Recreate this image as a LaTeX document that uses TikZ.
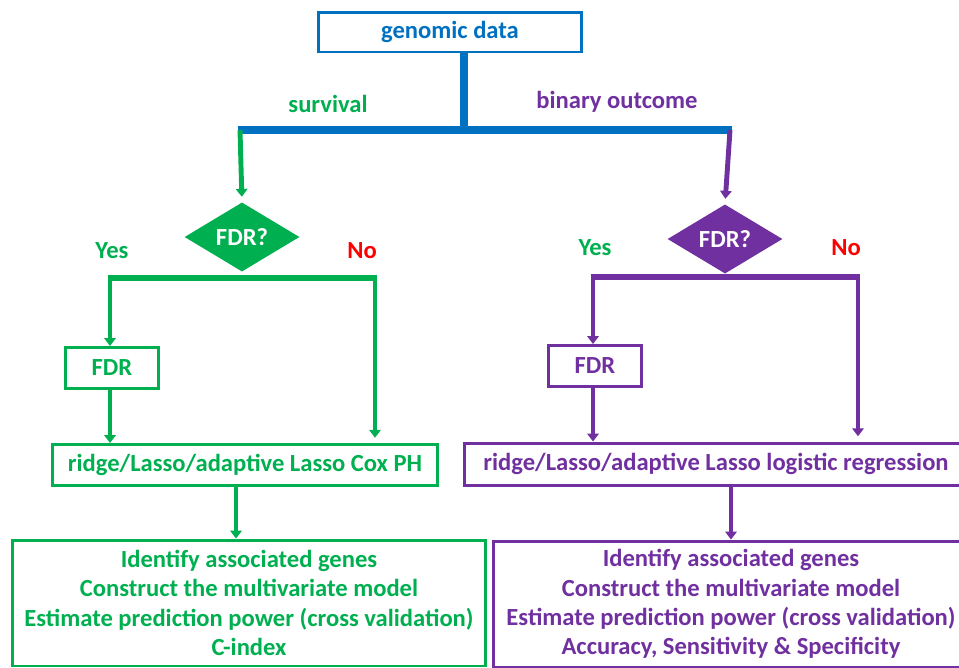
\documentclass[tikz,border=0pt]{standalone}
\usepackage{fontspec}
\setmainfont{Carlito}
\usetikzlibrary{arrows.meta,shapes.geometric,positioning,calc}
\definecolor{blu}{HTML}{0070C0}
\definecolor{grn}{HTML}{00B050}
\definecolor{prp}{HTML}{7030A0}
\definecolor{nored}{HTML}{FF0000}

\begin{document}
\begin{tikzpicture}[x=0.02cm,y=-0.02cm,>={Triangle[width=6.5pt,length=4.5pt]},
  font=\bfseries\fontsize{14}{16.7}\selectfont,
  box/.style={draw,line width=1.7pt,inner sep=0pt,align=center},
  fdrq/.style={diamond,fill,inner sep=0pt,text=white,minimum width=2.3cm,minimum height=1.22cm},
  arr/.style={line width=2.8pt,->},
  bar/.style={line width=3.8pt}]
\useasboundingbox (0,0) rectangle (959,667);
\clip (0,0) rectangle (959,667);
% top
\node[box,draw=blu,text=blu,minimum width=5.28cm,minimum height=0.8cm] (gen) at (450,32) {genomic data};
\coordinate (split) at (464,130);
\coordinate (sl) at (240,130);
\coordinate (sr) at (730,130);
\draw[blu,line width=5pt] (gen.south -| split) -- (split);
\draw[blu,line width=4.5pt] ([xshift=-1.4pt]sl) -- ([xshift=1.4pt]sr);
\node[grn] (surv) at (328,104) {survival};
\node[prp] (bin) at (617,102) {binary outcome};
% survival branch
\node[fdrq,fill=grn] (dl) at (242,237) {FDR?};
\draw[grn,arr,shorten >=3pt] (sl) -- (dl.north);
\node[grn] (yl) at (112,251) {Yes};
\node[nored] (nl) at (362,251) {No};
\node[box,draw=grn,text=grn,minimum width=1.86cm,minimum height=0.82cm] (fl) at (112,368) {FDR};
\node[box,draw=grn,text=grn,minimum width=7.72cm,minimum height=0.82cm] (rl) at (245,465) {ridge/Lasso/adaptive Lasso Cox PH};
\coordinate (bl1) at (110,278);
\coordinate (bl2) at (375,278);
\draw[grn,bar] ([xshift=-1.4pt]bl1) -- ([xshift=1.4pt]bl2);
\draw[grn,arr] ([yshift=1pt]bl1) -- (fl.north -| bl1);
\draw[grn,arr] ([yshift=1pt]bl2) -- ([yshift=3pt]rl.north -| bl2);
\draw[grn,arr] (fl.south -| bl1) -- (rl.north -| bl1);
\node[box,draw=grn,text=grn,minimum width=9.48cm,minimum height=2.52cm] (el) at (249,603)
  {Identify associated genes\\Construct the multivariate model\\Estimate prediction power (cross validation)\\C-index};
\coordinate (gcol) at (236,0);
\draw[grn,arr] (rl.south -| gcol) -- (el.north -| gcol);
% binary branch
\node[fdrq,fill=prp] (dr) at (725,239) {FDR?};
\draw[prp,arr,shorten >=3pt] (sr) -- (dr.north);
\node[grn] (yr) at (595,248) {Yes};
\node[nored] (nr) at (846,248) {No};
\node[box,draw=prp,text=prp,minimum width=1.86cm,minimum height=0.82cm] (fr) at (595,366) {FDR};
\node[box,draw=prp,text=prp,minimum width=10.08cm,minimum height=0.84cm] (rr) at (716,464) {ridge/Lasso/adaptive Lasso logistic regression};
\coordinate (br1) at (593,277);
\coordinate (br2) at (858,277);
\draw[prp,bar] ([xshift=-1.4pt]br1) -- ([xshift=1.4pt]br2);
\draw[prp,arr] ([yshift=1pt]br1) -- (fr.north -| br1);
\draw[prp,arr] ([yshift=1pt]br2) -- ([yshift=3pt]rr.north -| br2);
\draw[prp,arr] (fr.south -| br1) -- (rr.north -| br1);
\node[box,draw=prp,text=prp,minimum width=9.52cm,minimum height=2.52cm] (er) at (731,604)
  {Identify associated genes\\Construct the multivariate model\\Estimate prediction power (cross validation)\\Accuracy, Sensitivity \& Specificity};
\coordinate (pcol) at (731,0);
\draw[prp,arr] (rr.south -| pcol) -- (er.north -| pcol);
\end{tikzpicture}
\end{document}
